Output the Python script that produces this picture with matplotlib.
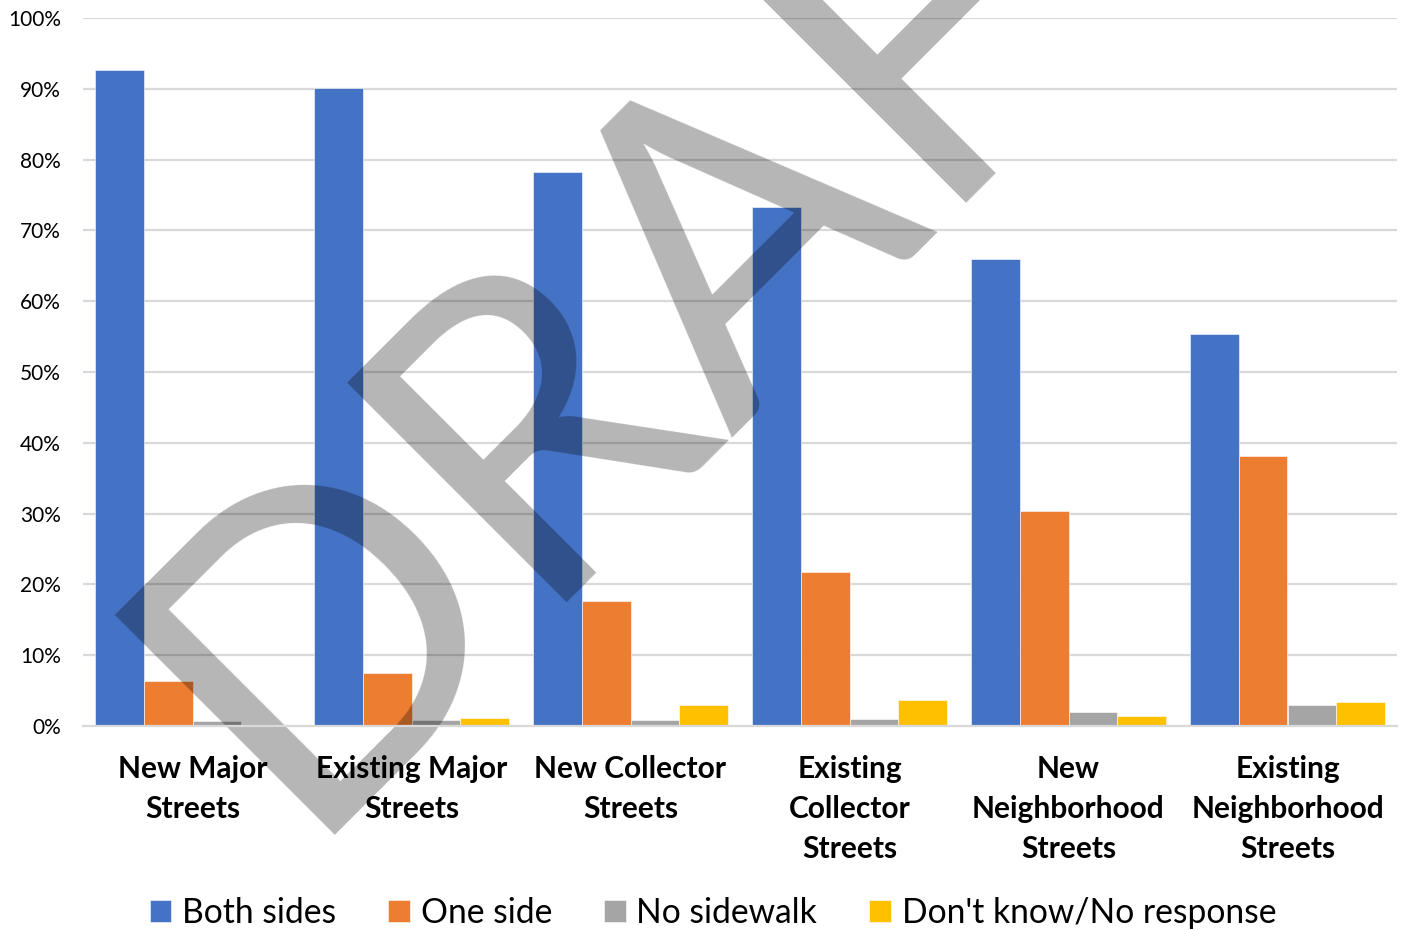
import matplotlib.pyplot as plt
import numpy as np
from matplotlib.ticker import PercentFormatter

plt.rcParams['font.family'] = ['Lato', 'DejaVu Sans']

categories = ['New Major\nStreets', 'Existing Major\nStreets', 'New Collector\nStreets',
              'Existing\nCollector\nStreets', 'New\nNeighborhood\nStreets',
              'Existing\nNeighborhood\nStreets']
series_names = ['Both sides', 'One side', 'No sidewalk', "Don't know/No response"]
both_sides = [92.7, 90.1, 78.2, 73.3, 66.0, 55.4]
one_side = [6.4, 7.5, 17.7, 21.8, 30.4, 38.1]
no_sidewalk = [0.7, 0.85, 0.85, 1.0, 2.0, 2.9]
dont_know = [0.1, 1.2, 3.0, 3.7, 1.4, 3.4]
colors = ['#4472C4', '#ED7D31', '#A5A5A5', '#FFC000']

fig = plt.figure(figsize=(14.03, 9.30), dpi=100)
ax = fig.add_axes([83/1403, 1-726/930, (1397-83)/1403, (726-18)/930])

x = np.arange(len(categories))
w = 0.2237
for i, vals in enumerate([both_sides, one_side, no_sidewalk, dont_know]):
    ax.bar(x + (i - 1.5)*w, vals, w, color=colors[i], label=series_names[i],
           zorder=1, edgecolor='white', linewidth=0.4)

# gridlines drawn as lines so the tick labels stay above the watermark
for yv in range(10, 101, 10):
    ax.axhline(yv, color='#D9D9D9', lw=1.6, zorder=0)

ax.set_xlim(-0.5, 5.5)
ax.set_ylim(0, 100)
ax.set_yticks(range(0, 101, 10))
ax.yaxis.set_major_formatter(PercentFormatter(decimals=0))
ax.set_xticks(x)
ax.set_xticklabels(categories, fontsize=21.5, fontweight='bold', linespacing=1.52)
ax.tick_params(axis='x', length=0, pad=21)
ax.tick_params(axis='y', length=0, pad=16, labelsize=15)
for s in ['top', 'right', 'left']:
    ax.spines[s].set_visible(False)
ax.spines['bottom'].set_color('#D9D9D9')
ax.spines['bottom'].set_linewidth(1.6)

leg = fig.legend(loc='center', bbox_to_anchor=(713/1403, 1-913/930), ncol=4,
                 frameon=False, fontsize=24.2, handlelength=0.64, handleheight=0.64,
                 handletextpad=0.32, columnspacing=1.55)

# DRAFT watermark
ax.text(295/1403, 1-835/930, 'DRAFT', transform=fig.transFigure, fontsize=312,
        rotation=45, rotation_mode='anchor', ha='left', va='baseline',
        color='black', alpha=0.29, zorder=2, clip_on=False)

plt.savefig('out.png', dpi=100)
